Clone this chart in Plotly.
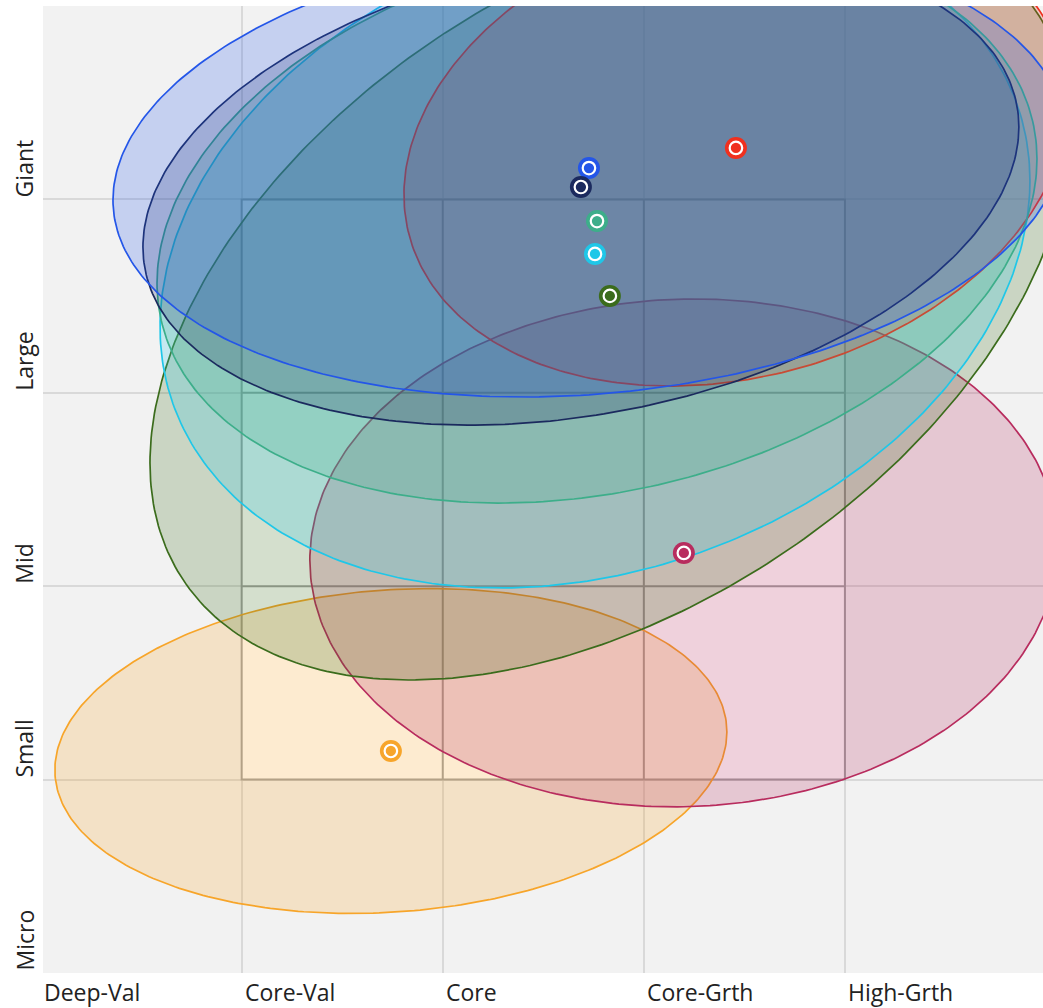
import numpy as np
import plotly.graph_objects as go

# ---- data ----
style_labels = ["Deep-Val", "Core-Val", "Core", "Core-Grth", "High-Grth"]
size_labels = ["Micro", "Small", "Mid", "Large", "Giant"]

series_names = ["Blue", "Navy", "Teal", "Cyan", "Green", "Red", "Magenta", "Orange"]
series_colors = ["#2456e8", "#1b2a5e", "#3dae8a", "#1fc7e8", "#3b6c1c", "#f0301e", "#b82c5e", "#f7a52a"]

# centroid (style score, size score)
center_x = [2.727, 2.687, 2.767, 2.757, 2.831, 3.458, 3.199, 1.742]
center_y = [4.162, 4.064, 3.888, 3.718, 3.501, 4.266, 2.172, 1.148]
# ownership zone spread
spread_x = [2.367, 2.178, 2.188, 2.163, 2.287, 1.651, 1.860, 1.671]
spread_y = [1.184, 1.231, 1.458, 1.727, 1.986, 1.231, 1.313, 0.840]
corr = [0.140, 0.252, 0.220, 0.219, 0.435, 0.197, 0.028, 0.117]

X_RANGE = [0.012, 4.985]
Y_RANGE = [0, 5]


def rgba(hex_color, a):
    h = hex_color.lstrip("#")
    r, g, b = int(h[0:2], 16), int(h[2:4], 16), int(h[4:6], 16)
    return f"rgba({r},{g},{b},{a})"


fig = go.Figure()

t = np.linspace(0, 2 * np.pi, 361)
draw_order = [7, 6, 4, 3, 5, 2, 1, 0]
for i in draw_order:
    ex = center_x[i] + spread_x[i] * np.cos(t)
    ey = center_y[i] + spread_y[i] * (corr[i] * np.cos(t) + np.sqrt(1 - corr[i] ** 2) * np.sin(t))
    fig.add_trace(go.Scatter(
        x=ex, y=ey, mode="lines", fill="toself",
        fillcolor=rgba(series_colors[i], 0.22),
        line=dict(color=series_colors[i], width=1.7),
        name=series_names[i], hoverinfo="skip", showlegend=False))

# centroid markers (outer ring, white ring, inner dot)
for i in range(len(series_names)):
    fig.add_trace(go.Scatter(
        x=[center_x[i]], y=[center_y[i]], mode="markers",
        marker=dict(size=22, color=series_colors[i], line=dict(width=0)),
        name=series_names[i], showlegend=False, hoverinfo="skip"))
    fig.add_trace(go.Scatter(
        x=[center_x[i]], y=[center_y[i]], mode="markers",
        marker=dict(size=12.5, color=series_colors[i], line=dict(width=2.2, color="white")),
        name=series_names[i], showlegend=False))

# style box
shapes = [dict(type="rect", xref="x", yref="y", x0=1, x1=4, y0=1, y1=4,
               fillcolor="white", line=dict(color="#a0a0a0", width=2), layer="between")]
for v in [2, 3]:
    shapes.append(dict(type="line", xref="x", yref="y", x0=v, x1=v, y0=1, y1=4,
                       line=dict(color="#a0a0a0", width=2), layer="between"))
    shapes.append(dict(type="line", xref="x", yref="y", x0=1, x1=4, y0=v, y1=v,
                       line=dict(color="#a0a0a0", width=2), layer="between"))

font_family = "Open Sans"
annotations = []
for k, lab in enumerate(style_labels):
    xp = (k - X_RANGE[0]) / (X_RANGE[1] - X_RANGE[0])
    annotations.append(dict(x=xp, y=0, xref="paper", yref="paper", text=lab, showarrow=False,
                            xanchor="left", yanchor="top", xshift=1, yshift=-1,
                            font=dict(family=font_family, size=23, color="#222222")))
for k, lab in enumerate(size_labels):
    yp = (k - Y_RANGE[0]) / (Y_RANGE[1] - Y_RANGE[0])
    annotations.append(dict(x=0, y=yp, xref="paper", yref="paper", text=lab, showarrow=False,
                            textangle=-90, xanchor="center", yanchor="bottom", xshift=-19,
                            font=dict(family=font_family, size=23, color="#222222")))

fig.update_layout(
    width=1043, height=1008,
    margin=dict(l=43, r=0, t=6, b=35),
    paper_bgcolor="white", plot_bgcolor="#f2f2f2",
    shapes=shapes, annotations=annotations,
    xaxis=dict(range=X_RANGE, tickvals=[0, 1, 2, 3, 4], showticklabels=False,
               showgrid=True, gridcolor="#d9d9d9", gridwidth=2, zeroline=False, ticks=""),
    yaxis=dict(range=Y_RANGE, tickvals=[0, 1, 2, 3, 4], showticklabels=False,
               showgrid=True, gridcolor="#d9d9d9", gridwidth=2, zeroline=False, ticks=""),
    showlegend=False,
)

fig.write_html("out.html", config={"displayModeBar": False},
               post_script="document.body.style.margin='0';document.body.style.overflow='hidden';")
